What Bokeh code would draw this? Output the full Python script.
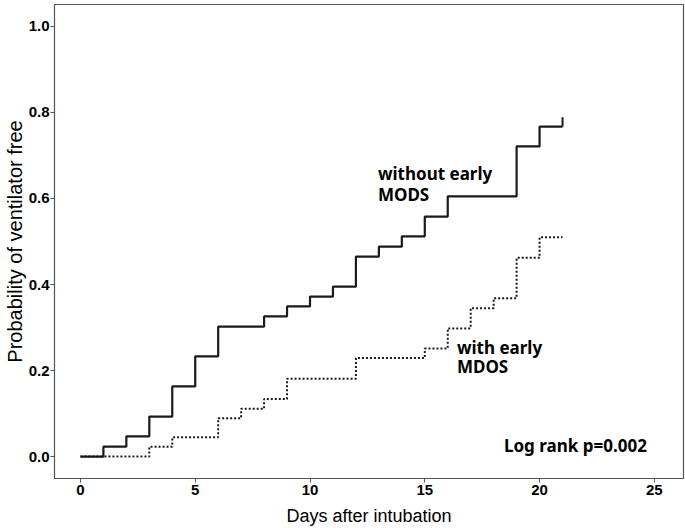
from bokeh.plotting import figure
from bokeh.models import FixedTicker, NumeralTickFormatter
from bokeh.core.properties import value
from bokeh.embed import file_html
from bokeh.resources import INLINE

# Without early MODS (solid)
days_solid = [0, 1, 2, 3, 4, 5, 6, 8, 9, 10, 11, 12, 13, 14, 15, 16, 19, 20, 21]
surv_solid = [0.0, 0.023, 0.047, 0.093, 0.163, 0.233, 0.302, 0.326, 0.349, 0.372,
              0.395, 0.465, 0.488, 0.512, 0.558, 0.605, 0.721, 0.767, 0.767]
censor_solid_day = [21]
censor_solid_val = [0.767]

# With early MDOS (dotted)
days_dot = [0, 3, 4, 6, 7, 8, 9, 12, 15, 16, 17, 18, 19, 20, 21]
surv_dot = [0.0, 0.023, 0.045, 0.089, 0.111, 0.134, 0.181, 0.229, 0.251, 0.298,
            0.345, 0.368, 0.462, 0.510, 0.510]

x_ticks = [0, 5, 10, 15, 20, 25]
y_ticks = [0.0, 0.2, 0.4, 0.6, 0.8, 1.0]

label_solid = ["without early", "MODS"]
label_dot = ["with early", "MDOS"]
label_logrank = "Log rank p=0.002"

p = figure(width=685, height=528, x_range=(-1.13, 26.27), y_range=(-0.051, 1.051),
           output_backend="svg", toolbar_location=None,
           min_border_left=0, min_border_right=2, min_border_top=4, min_border_bottom=0)

p.xgrid.visible = False
p.ygrid.visible = False
p.outline_line_color = "#555555"
p.outline_line_width = 1.2
p.background_fill_color = "white"
p.border_fill_color = "white"

for ax in (p.xaxis[0], p.yaxis[0]):
    ax.axis_line_color = "#555555"
    ax.major_tick_line_color = "#555555"
    ax.major_tick_out = 4
    ax.major_tick_in = 0
    ax.minor_tick_line_color = None
    ax.major_label_text_font = "Liberation Sans"
    ax.major_label_text_font_style = "bold"
    ax.major_label_text_font_size = "15px"
    ax.major_label_text_color = "black"
    ax.axis_label_text_font = "Liberation Sans"
    ax.axis_label_text_font_style = "normal"
    ax.axis_label_text_color = "black"

p.xaxis.ticker = FixedTicker(ticks=x_ticks)
p.yaxis.ticker = FixedTicker(ticks=y_ticks)
p.yaxis.formatter = NumeralTickFormatter(format="0.0")
p.xaxis.axis_label = "Days after intubation"
p.yaxis.axis_label = "Probability of ventilator free"
p.xaxis.axis_label_text_font_size = "18px"
p.yaxis.axis_label_text_font_size = "20px"
p.xaxis.major_label_standoff = 2
p.xaxis.axis_label_standoff = 8
p.yaxis.axis_label_standoff = 0
p.yaxis.major_label_standoff = 1

p.step(days_solid, surv_solid, mode="after", line_color="#1a1a1a", line_width=2.2)
p.step(days_dot, surv_dot, mode="after", line_color="#1a1a1a", line_width=2.0, line_dash="2 2")

# censor tick
p.segment(x0=censor_solid_day, y0=censor_solid_val, x1=censor_solid_day,
          y1=[v + 0.022 for v in censor_solid_val], line_color="#1a1a1a", line_width=2)

font = value("Noto Sans")
common = dict(text_font=font, text_font_style="bold", text_font_size="17px",
              text_baseline="middle", text_align="left", text_color="black")
p.text(x=[12.96, 12.96], y=[0.657, 0.609], text=label_solid, **common)
p.text(x=[16.4, 16.4], y=[0.254, 0.21], text=label_dot, **common)
p.text(x=[18.45], y=[0.025], text=[label_logrank], **common)

open("out.html", "w").write(file_html(p, INLINE))
